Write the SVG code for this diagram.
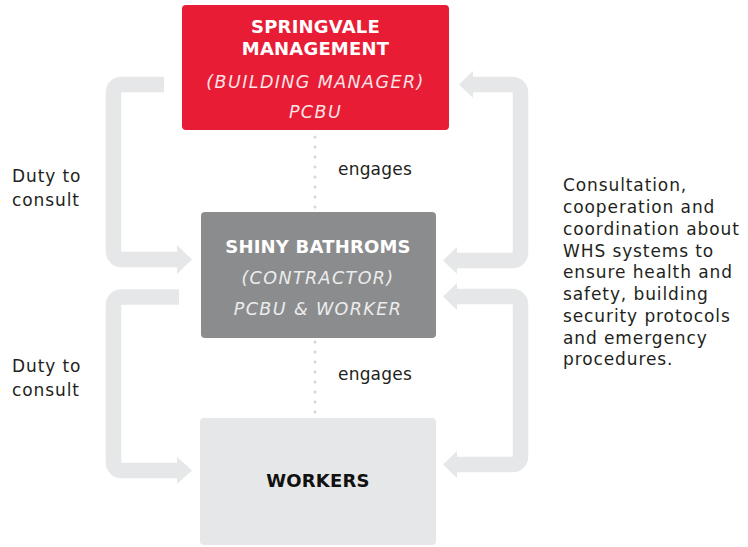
<svg xmlns="http://www.w3.org/2000/svg" width="748" height="547" viewBox="0 0 748 547">
<style>
.arr{fill:none;stroke:#e6e7e8;stroke-width:15.5}
.head{fill:#e6e7e8}
.dot{fill:none;stroke:#d4d5d7;stroke-width:3;stroke-linecap:round;stroke-dasharray:0 10}
.t{font-family:"DejaVu Sans","Liberation Sans",sans-serif}
.b{font-weight:bold;font-size:18px;letter-spacing:0.2px;text-anchor:middle}
.i{font-style:italic;font-size:17.5px;letter-spacing:1.4px;text-anchor:middle}
.lbl{font-size:17px;letter-spacing:0.9px;fill:#231f20}
</style>
<rect width="748" height="547" fill="#ffffff"/>
<g id="connectors">
  <path class="arr" d="M164,84.5 H121.5 A8,8 0 0 0 113.5,92.5 V251.5 A8,8 0 0 0 121.5,259.5 H178"/>
  <polygon class="head" points="177,245 192,259.5 177,274"/>
  <path class="arr" d="M472,84.5 H512.5 A8,8 0 0 1 520.5,92.5 V252.5 A8,8 0 0 1 512.5,260.5 H456"/>
  <polygon class="head" points="473,71 459,84.5 473,98"/>
  <polygon class="head" points="457,247 443,260.5 457,274"/>
  <path class="arr" d="M179,297 H121.5 A8,8 0 0 0 113.5,305 V462.5 A8,8 0 0 0 121.5,470.5 H178"/>
  <polygon class="head" points="177,457 192,470.5 177,484"/>
  <path class="arr" d="M456,296.5 H512.5 A8,8 0 0 1 520.5,304.5 V456.5 A8,8 0 0 1 512.5,464.5 H456"/>
  <polygon class="head" points="457,283 443,296.5 457,310"/>
  <polygon class="head" points="457,451 443,464.5 457,478"/>
  <path class="dot" d="M315,137 V212"/>
  <path class="dot" d="M315,342 V417"/>
</g>
<g id="springvale">
  <rect x="182" y="5" width="267" height="125" rx="4" fill="#e81c34"/>
  <text class="t b" x="315.5" y="33" fill="#ffffff">SPRINGVALE</text>
  <text class="t b" x="315.5" y="55" fill="#ffffff">MANAGEMENT</text>
  <text class="t i" x="315.5" y="88" fill="#fbe3e6">(BUILDING MANAGER)</text>
  <text class="t i" x="315.5" y="118" fill="#fbe3e6">PCBU</text>
</g>
<g id="shiny">
  <rect x="201" y="212" width="235" height="126" rx="4" fill="#8b8c8e"/>
  <text class="t b" x="318" y="253" fill="#ffffff">SHINY BATHROMS</text>
  <text class="t i" x="318" y="284" fill="#ececec">(CONTRACTOR)</text>
  <text class="t i" x="318" y="315" fill="#ececec">PCBU &amp; WORKER</text>
</g>
<g id="workers">
  <rect x="200" y="418" width="236" height="127" rx="4" fill="#e6e7e8"/>
  <text class="t b" x="318" y="487" fill="#111111">WORKERS</text>
</g>
<g id="labels">
  <text class="t lbl" x="338" y="175" style="letter-spacing:0.2px">engages</text>
  <text class="t lbl" x="338" y="380" style="letter-spacing:0.2px">engages</text>
  <text class="t lbl" x="12" y="182">Duty to</text>
  <text class="t lbl" x="12" y="206">consult</text>
  <text class="t lbl" x="12" y="372">Duty to</text>
  <text class="t lbl" x="12" y="396">consult</text>
  <text class="t lbl" x="563" y="191">Consultation,</text>
  <text class="t lbl" x="563" y="213">cooperation and</text>
  <text class="t lbl" x="563" y="235">coordination about</text>
  <text class="t lbl" x="563" y="257">WHS systems to</text>
  <text class="t lbl" x="563" y="278">ensure health and</text>
  <text class="t lbl" x="563" y="300">safety, building</text>
  <text class="t lbl" x="563" y="322">security protocols</text>
  <text class="t lbl" x="563" y="344">and emergency</text>
  <text class="t lbl" x="563" y="365">procedures.</text>
</g>
</svg>
